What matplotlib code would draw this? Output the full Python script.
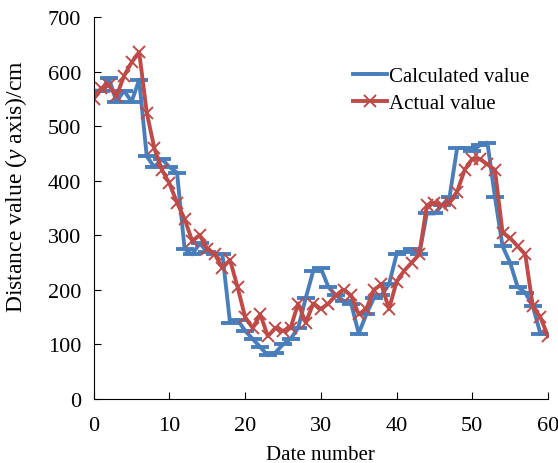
import matplotlib
matplotlib.use("Agg")
import matplotlib.pyplot as plt
import numpy as np

# date numbers 0..60
dates = list(range(61))

calculated = [565, 565, 588, 545, 565, 545, 585, 445, 425, 440,
              425, 415, 275, 265, 285, 270, 265, 265, 140, 145,
              125, 110, 95, 80, 85, 100, 110, 130, 185, 235,
              240, 205, 190, 180, 175, 120, 155, 185, 190, 210,
              265, 270, 275, 265, 340, 340, 355, 370, 460, 460,
              455, 465, 470, 370, 280, 250, 205, 195, 170, 120,
              120]

actual = [550, 570, 575, 555, 592, 617, 636, 525, 460, 420,
          395, 360, 330, 290, 300, 275, 265, 240, 255, 205,
          150, 130, 155, 115, 130, 125, 130, 175, 140, 175,
          165, 175, 190, 200, 190, 155, 165, 200, 210, 165,
          215, 235, 250, 265, 355, 360, 355, 360, 380, 420,
          440, 440, 430, 420, 305, 295, 280, 265, 170, 150,
          115]

params = {"font.family": "Liberation Serif", "mathtext.fontset": "custom",
          "mathtext.rm": "Liberation Serif", "mathtext.it": "Liberation Serif:italic",
          "font.size": 15}
matplotlib.rcParams.update(params)

fig = plt.figure(figsize=(5.58, 4.64), dpi=100)
ax = fig.add_axes([0.168, 0.138, 0.814, 0.823])

ax.plot(dates, calculated, color="#4a7ebb", lw=2.8, marker="_", ms=13, mew=2.8,
        label="Calculated value")
ax.plot(dates, actual, color="#be4b48", lw=2.8, marker="x", ms=9, mew=1.4,
        label="Actual value")

ax.set_xlim(0, 60)
ax.set_ylim(0, 700)
ax.set_xticks(np.arange(0, 61, 10))
ax.set_yticks(np.arange(0, 701, 100))
ax.tick_params(direction="in", length=5, labelsize=16)
ax.tick_params(axis="x", pad=12)
ax.tick_params(axis="y", pad=9)
ax.spines["top"].set_visible(False)
ax.spines["right"].set_visible(False)
ax.set_xlabel("Date number", fontsize=15)
ax.xaxis.set_label_coords(0.5, -0.12)
ax.set_ylabel(r"Distance value ($\it{y}$ axis)/cm", fontsize=17)
ax.yaxis.set_label_coords(-0.142, 0.56)

ax.legend(loc="upper left", bbox_to_anchor=(0.53, 0.92), frameon=False,
          fontsize=15, handlelength=1.6, handletextpad=0.1, labelspacing=0.35)

fig.savefig("out.png", dpi=100)
